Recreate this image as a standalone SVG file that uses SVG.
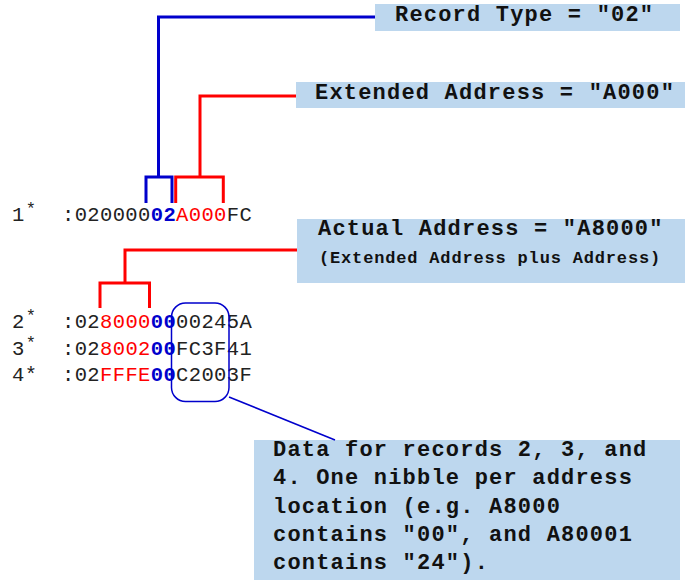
<svg xmlns="http://www.w3.org/2000/svg" width="685" height="580" viewBox="0 0 685 580">
  <style>
    .code { font-family: "Liberation Mono", "Courier New", monospace; font-size: 20.5px; letter-spacing: 0.37px; fill: #222; }
    .blue { fill: #0000CC; font-weight: bold; }
    .red { fill: #FF0000; }
    .sup { font-size: 17px; }
    .box { fill: #BDD7EE; }
    .label { font-family: "Liberation Mono", "Courier New", monospace; font-weight: bold; font-size: 22px; letter-spacing: 1.2px; fill: #111; }
    .small { font-size: 17px; letter-spacing: 0.83px; }
    .bracket-blue { fill: none; stroke: #0000CC; stroke-width: 3; stroke-linejoin: miter; }
    .bracket-red { fill: none; stroke: #FF0000; stroke-width: 3; stroke-linejoin: miter; }
    .leader { fill: none; stroke: #0000CC; stroke-width: 1.6; }
  </style>

  <!-- hex records -->
  <g id="record1">
    <text class="code" x="12" y="221">1<tspan class="sup" dx="1" dy="-7">*</tspan></text>
    <text class="code" x="62" y="221">:020000<tspan class="blue">02</tspan><tspan class="red">A000</tspan>FC</text>
  </g>
  <g id="record2">
    <text class="code" x="12" y="328">2<tspan class="sup" dx="1" dy="-7">*</tspan></text>
    <text class="code" x="62" y="328">:02<tspan class="red">8000</tspan><tspan class="blue">00</tspan>00245A</text>
  </g>
  <g id="record3">
    <text class="code" x="12" y="355">3<tspan class="sup" dx="1" dy="-7">*</tspan></text>
    <text class="code" x="62" y="355">:02<tspan class="red">8002</tspan><tspan class="blue">00</tspan>FC3F41</text>
  </g>
  <g id="record4">
    <text class="code" x="12" y="381">4*</text>
    <text class="code" x="62" y="381">:02<tspan class="red">FFFE</tspan><tspan class="blue">00</tspan>C2003F</text>
  </g>

  <!-- callout labels -->
  <g id="record-type">
    <rect class="box" x="375" y="4" width="305" height="27"/>
    <text class="label" x="395" y="21">Record Type = "02"</text>
  </g>
  <g id="extended-address">
    <rect class="box" x="296" y="82" width="389" height="26"/>
    <text class="label" x="315" y="99">Extended Address = "A000"</text>
  </g>
  <g id="actual-address">
    <rect class="box" x="297" y="219" width="388" height="64"/>
    <text class="label" x="318" y="235">Actual Address = "A8000"</text>
    <text class="label small" x="319" y="263">(Extended Address plus Address)</text>
  </g>
  <g id="data-note">
    <rect class="box" x="254" y="440" width="426" height="145"/>
    <text class="label" x="273" y="456">Data for records 2, 3, and</text>
    <text class="label" x="273" y="484">4. One nibble per address</text>
    <text class="label" x="273" y="513">location (e.g. A8000</text>
    <text class="label" x="273" y="541">contains "00", and A80001</text>
    <text class="label" x="273" y="569">contains "24").</text>
  </g>
  <g id="data-outline">
    <rect x="171.5" y="303" width="57.5" height="98.5" rx="14" ry="14" fill="none" stroke="#0000CC" stroke-width="1.5"/>
  </g>

  <!-- connectors -->
  <g id="connectors">
    <path class="bracket-blue" d="M146 203 V177 H172 V203"/>
    <path class="bracket-blue" d="M158.5 177 V17 H375" stroke-width="2.5"/>
    <path class="bracket-red" d="M175.7 203 V177 H223.3 V203"/>
    <path class="bracket-red" d="M200 177 V96 H296" stroke-width="2.5"/>
    <path class="bracket-red" d="M100 308 V283 H149.5 V308"/>
    <path class="bracket-red" d="M125 283 V250 H297" stroke-width="2.5"/>
    <path class="leader" d="M229 397 L335 440"/>
  </g>
</svg>
